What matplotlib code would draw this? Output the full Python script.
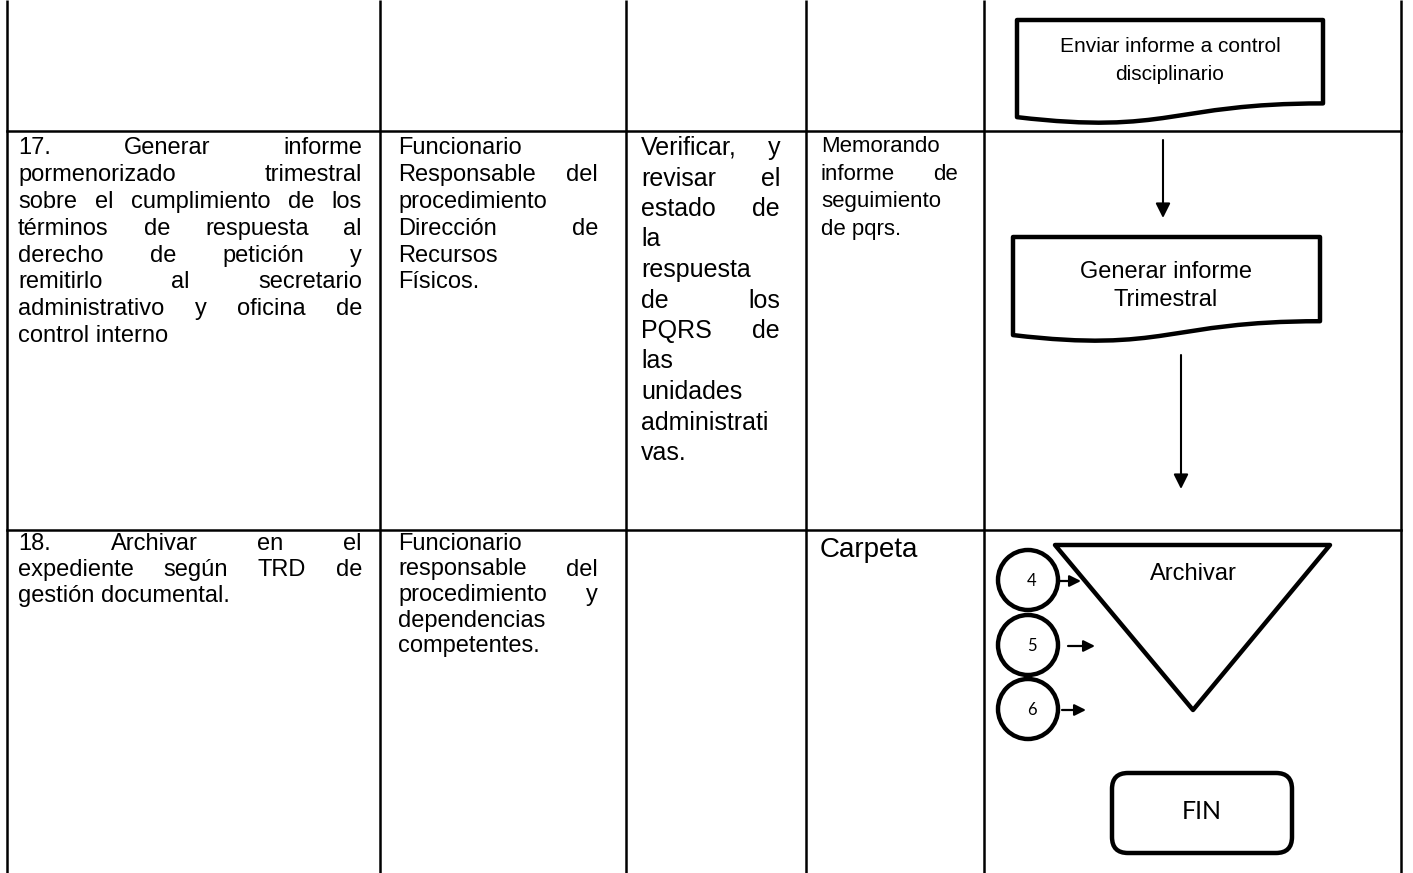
import matplotlib
matplotlib.use("Agg")
import matplotlib.pyplot as plt
from matplotlib.patches import Circle, FancyBboxPatch, PathPatch, Polygon
from matplotlib.path import Path

W, H = 1413, 873

# grilla de la tabla
col_x = [7, 380, 626, 806, 984, 1401]
row_y = [131, 530]

# fila 17
act_17 = ["17. Generar informe", "pormenorizado trimestral",
          "sobre el cumplimiento de los", "términos de respuesta al",
          "derecho de petición y", "remitirlo al secretario",
          "administrativo y oficina de", "control interno"]
resp_17 = ["Funcionario", "Responsable del", "procedimiento", "Dirección de",
           "Recursos", "Físicos."]
desc_17 = ["Verificar, y", "revisar el", "estado de", "la", "respuesta",
           "de los", "PQRS de", "las", "unidades", "administrati", "vas."]
reg_17 = ["Memorando", "informe de", "seguimiento", "de pqrs."]

# fila 18
act_18 = ["18. Archivar en el", "expediente según TRD de", "gestión documental."]
resp_18 = ["Funcionario", "responsable del", "procedimiento y", "dependencias",
           "competentes."]
reg_18 = ["Carpeta"]

# textos del diagrama
doc_1 = ["Enviar informe a control", "disciplinario"]
doc_2 = ["Generar informe", "Trimestral"]
archivo = "Archivar"
conectores = ["4", "5", "6"]
fin = "FIN"

FONT = "Liberation Sans"
FONT2 = "Lato"
LW = 3.2

fig = plt.figure(figsize=(W / 100, H / 100), dpi=100)
ax = fig.add_axes([0, 0, 1, 1])
ax.set_xlim(0, W)
ax.set_ylim(H, 0)
ax.axis("off")
renderer = fig.canvas.get_renderer()


def parrafo(lines, x0, x1, y0, dy, size):
    # texto justificado como en el documento
    for i, line in enumerate(lines):
        y = y0 + i * dy
        words = line.split()
        if i == len(lines) - 1 or len(words) == 1:
            ax.text(x0, y, line, fontsize=size, family=FONT, va="baseline", ha="left")
            continue
        ts = [ax.text(0, y, w, fontsize=size, family=FONT, va="baseline", ha="left")
              for w in words]
        widths = [t.get_window_extent(renderer).width for t in ts]
        gap = (x1 - x0 - sum(widths)) / (len(words) - 1)
        x = x0
        for t, w in zip(ts, widths):
            t.set_x(x)
            x += w + gap


# lineas de la tabla
for x in col_x:
    ax.plot([x, x], [0, H], color="black", lw=1.8, solid_capstyle="butt")
for y in row_y:
    ax.plot([col_x[0], col_x[-1]], [y, y], color="black", lw=1.8)

parrafo(act_17, 18, 362, 154, 26.9, 17)
parrafo(resp_17, 398, 598, 154, 26.9, 17)
parrafo(desc_17, 641, 780, 155, 30.5, 18)
parrafo(reg_17, 821, 958, 152, 27.7, 16)

parrafo(act_18, 18, 362, 550, 26, 17)
parrafo(resp_18, 398, 598, 550, 25.5, 17)
parrafo(reg_18, 820, 958, 557, 26, 20)


def documento(L, T, w, h):
    verts = [(L, T), (L + w, T), (L + w, T + 0.802 * h),
             (L + 0.5 * w, T + 0.802 * h), (L + 0.5 * w, T + 1.107 * h), (L, T + 0.934 * h),
             (L, T)]
    codes = [Path.MOVETO, Path.LINETO, Path.LINETO,
             Path.CURVE4, Path.CURVE4, Path.CURVE4, Path.CLOSEPOLY]
    ax.add_patch(PathPatch(Path(verts, codes), facecolor="white", edgecolor="black",
                           lw=LW, joinstyle="round"))


documento(1017, 20, 306, 104)
ax.text(1170, 52.5, doc_1[0], fontsize=15, family=FONT, ha="center", va="baseline")
ax.text(1170, 79.5, doc_1[1], fontsize=15, family=FONT, ha="center", va="baseline")

documento(1013, 237, 307, 105)
ax.text(1166, 278.5, doc_2[0], fontsize=17, family=FONT, ha="center", va="baseline")
ax.text(1166, 305.5, doc_2[1], fontsize=17, family=FONT, ha="center", va="baseline")

flecha = dict(arrowstyle="-|>", color="black", lw=1.5, mutation_scale=22,
              shrinkA=0, shrinkB=0)
ax.annotate("", xy=(1163, 218), xytext=(1163, 140), arrowprops=flecha)
ax.annotate("", xy=(1181, 489), xytext=(1181, 355), arrowprops=flecha)

# archivar
ax.add_patch(Polygon([(1055, 545), (1330, 545), (1193, 710)], closed=True,
                     facecolor="white", edgecolor="black", lw=LW, joinstyle="round"))
ax.text(1193, 580.5, archivo, fontsize=17, family=FONT, ha="center", va="baseline")

circ_y = [580, 645, 709]
flechas_x = [(1060, 1081), (1068, 1095), (1062, 1086)]
chica = dict(arrowstyle="-|>", color="black", lw=1.6, mutation_scale=17,
             shrinkA=0, shrinkB=0)
for lab, y, (xa, xb) in zip(conectores, circ_y, flechas_x):
    ax.add_patch(Circle((1028, y), 30, facecolor="white", edgecolor="black", lw=LW))
    ax.text(1032, y + 6, lab, fontsize=12, family=FONT2, ha="center", va="baseline")
    ax.annotate("", xy=(xb, y + 1), xytext=(xa, y + 1), arrowprops=chica)

ax.add_patch(FancyBboxPatch((1112, 773), 180, 80,
                            boxstyle="round,pad=0,rounding_size=16",
                            facecolor="white", edgecolor="black", lw=LW))
ax.text(1202, 819, fin, fontsize=18, family=FONT2, ha="center", va="baseline")

fig.savefig("out.png", dpi=100)
